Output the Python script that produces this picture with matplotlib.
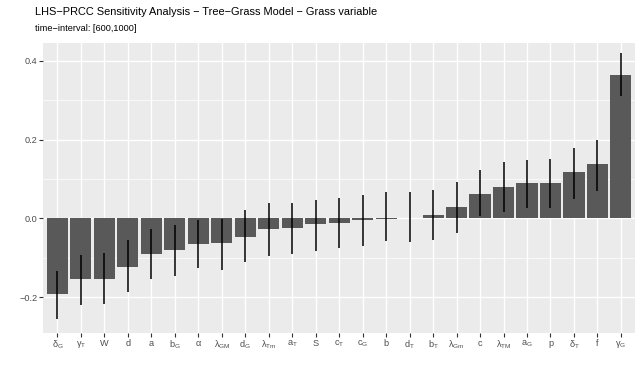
import matplotlib
matplotlib.use('Agg')
import matplotlib.pyplot as plt
import numpy as np

plt.rcParams['font.family'] = ['Liberation Sans', 'DejaVu Sans']
plt.rcParams['mathtext.fontset'] = 'custom'
plt.rcParams['mathtext.rm'] = 'Liberation Sans'
plt.rcParams['mathtext.it'] = 'Liberation Sans'
plt.rcParams['mathtext.default'] = 'regular'

# parameters, sorted by PRCC
params = [r'$\delta_G$', r'$\gamma_T$', 'W', 'd', 'a', r'$b_G$', r'$\alpha$', r'$\lambda_{GM}$',
          r'$d_G$', r'$\lambda_{Tm}$', r'$a_T$', 'S', r'$c_T$', r'$c_G$', 'b', r'$d_T$',
          r'$b_T$', r'$\lambda_{Gm}$', 'c', r'$\lambda_{TM}$', r'$a_G$', 'p', r'$\delta_T$',
          'f', r'$\gamma_G$']
prcc = [-0.193, -0.155, -0.155, -0.123, -0.091, -0.081, -0.065, -0.063,
        -0.047, -0.027, -0.024, -0.015, -0.013, -0.003, -0.002, 0.002,
        0.008, 0.029, 0.062, 0.079, 0.089, 0.090, 0.117, 0.137, 0.364]
ci_low = [-0.256, -0.221, -0.218, -0.186, -0.153, -0.146, -0.126, -0.131,
          -0.110, -0.095, -0.090, -0.082, -0.076, -0.071, -0.058, -0.059,
          -0.054, -0.036, 0.006, 0.016, 0.027, 0.027, 0.050, 0.070, 0.311]
ci_high = [-0.134, -0.093, -0.089, -0.055, -0.028, -0.017, -0.003, -0.001,
           0.020, 0.039, 0.038, 0.046, 0.051, 0.060, 0.067, 0.068,
           0.071, 0.091, 0.123, 0.142, 0.148, 0.150, 0.178, 0.200, 0.419]

fig = plt.figure(figsize=(6.4, 3.69), dpi=100)
ax = fig.add_axes([43.3/640, 1-333/369, (635-43.3)/640, (333-43)/369])
ax.set_facecolor('#EBEBEB')

x = np.arange(len(params))
ax.bar(x, prcc, width=0.9, color='#595959', zorder=3)
ax.vlines(x, ci_low, ci_high, color='black', linewidth=1.1, zorder=4)

ax.set_xlim(-0.6, len(params) - 0.4)
ax.set_ylim(-0.291, 0.445)
ax.set_yticks([-0.2, 0.0, 0.2, 0.4])
ax.set_yticklabels(['\u22120.2', '0.0', '0.2', '0.4'])
ax.set_yticks([-0.1, 0.1, 0.3], minor=True)
ax.set_xticks(x)
ax.set_xticklabels(params)

ax.grid(which='major', color='white', linewidth=1.0, zorder=0)
ax.grid(which='minor', axis='y', color='white', linewidth=0.5, zorder=0)
ax.set_axisbelow(True)
for s in ax.spines.values():
    s.set_visible(False)
ax.tick_params(which='major', length=2.7, width=0.8, color='#333333',
               labelsize=6.6, labelcolor='#4D4D4D', pad=1.6)
ax.tick_params(which='minor', length=0)

fig.text(35/640, 1-12/369, 'LHS\u2212PRCC Sensitivity Analysis \u2212 Tree\u2212Grass Model \u2212 Grass variable',
         fontsize=7.95, va='center', ha='left')
fig.text(35/640, 1-28.5/369, 'time\u2212interval: [600,1000]', fontsize=6.6, va='center', ha='left')

fig.savefig('out.png', dpi=100)
